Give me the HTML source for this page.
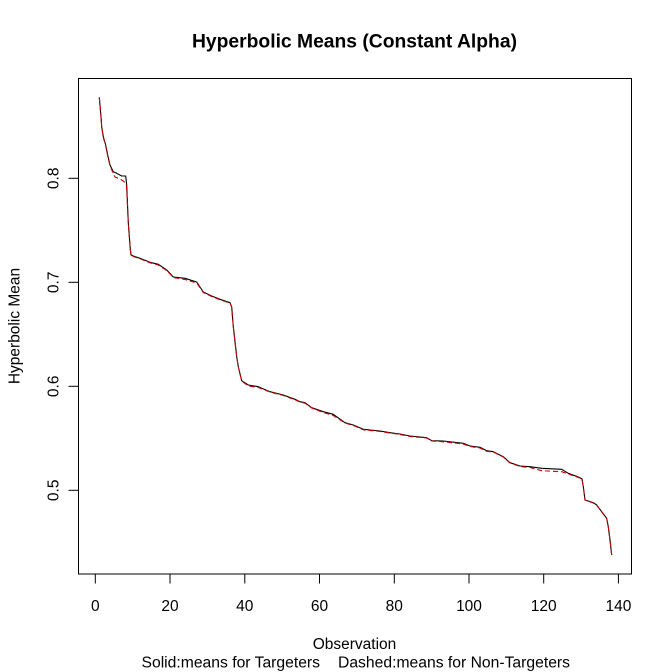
<!DOCTYPE html>
<html>
<head>
<meta charset="utf-8">
<style>
  html, body { margin: 0; padding: 0; background: #ffffff; }
  svg { display: block; }
  text { font-family: "Liberation Sans", Arial, sans-serif; fill: #000; }
</style>
</head>
<body>
<svg width="672" height="672" viewBox="0 0 672 672" xmlns="http://www.w3.org/2000/svg">
  <rect x="0" y="0" width="672" height="672" fill="#ffffff"/>

  <!-- Title -->
  <text x="354.5" y="47.5" font-size="19.2" font-weight="bold" text-anchor="middle" textLength="325" lengthAdjust="spacingAndGlyphs">Hyperbolic Means (Constant Alpha)</text>

  <!-- Plot box -->
  <rect x="78.5" y="78.5" width="553" height="495.5" fill="none" stroke="#000" stroke-width="1"/>

  <!-- X axis ticks -->
  <g stroke="#000" stroke-width="1">
    <line x1="95.3" y1="574" x2="95.3" y2="583.5"/>
    <line x1="170.0" y1="574" x2="170.0" y2="583.5"/>
    <line x1="244.8" y1="574" x2="244.8" y2="583.5"/>
    <line x1="319.5" y1="574" x2="319.5" y2="583.5"/>
    <line x1="394.3" y1="574" x2="394.3" y2="583.5"/>
    <line x1="469.0" y1="574" x2="469.0" y2="583.5"/>
    <line x1="543.7" y1="574" x2="543.7" y2="583.5"/>
    <line x1="618.4" y1="574" x2="618.4" y2="583.5"/>
  </g>
  <g font-size="15.5" text-anchor="middle">
    <text x="95.3" y="611">0</text>
    <text x="170.0" y="611">20</text>
    <text x="244.8" y="611">40</text>
    <text x="319.5" y="611">60</text>
    <text x="394.3" y="611">80</text>
    <text x="469.0" y="611">100</text>
    <text x="543.7" y="611">120</text>
    <text x="618.4" y="611">140</text>
  </g>

  <!-- Y axis ticks -->
  <g stroke="#000" stroke-width="1">
    <line x1="78" y1="178.3" x2="68.5" y2="178.3"/>
    <line x1="78" y1="282.3" x2="68.5" y2="282.3"/>
    <line x1="78" y1="386.3" x2="68.5" y2="386.3"/>
    <line x1="78" y1="490.3" x2="68.5" y2="490.3"/>
  </g>
  <g font-size="15.5" text-anchor="middle">
    <text transform="translate(58.5,178.3) rotate(-90)">0.8</text>
    <text transform="translate(58.5,282.3) rotate(-90)">0.7</text>
    <text transform="translate(58.5,386.3) rotate(-90)">0.6</text>
    <text transform="translate(58.5,490.3) rotate(-90)">0.5</text>
  </g>

  <!-- Axis labels -->
  <text transform="translate(19.5,326) rotate(-90)" font-size="15.5" text-anchor="middle">Hyperbolic Mean</text>
  <text x="354.5" y="649" font-size="15.5" text-anchor="middle">Observation</text>
  <text x="141.5" y="667.5" font-size="15.5" textLength="178.5" lengthAdjust="spacingAndGlyphs">Solid:means for Targeters</text>
  <text x="338" y="667.5" font-size="15.5" textLength="232" lengthAdjust="spacingAndGlyphs">Dashed:means for Non-Targeters</text>

  <!-- Solid black series (Targeters) -->
  <polyline fill="none" stroke="#000" stroke-width="1.1" stroke-linejoin="round" points="
    99.3,97.3 101,116.7 101.7,126.7 103.3,136.7 105.7,145 107.7,155 110,165 113.3,171.7 116.7,173.3 121.7,176 125.7,176
    126.7,185 128.3,223 130.3,249.3 131,255 133.3,256 140,258.3 150,262.3 158.3,264.3 166.7,270 173.3,277 185,278.3
    196.7,282 203.3,292 211.7,296 220,299.3 230,302.7 231.7,307 233.3,326.7 236.7,356.7 238.3,366.7 241.7,380.7
    248.3,385 258.3,386.7 270,391.7 283.3,395 295,399.3 300,401.7 305,402.7 311.7,407.7 323.3,411.7 333.3,414.3
    345,422.7 353.3,425 363.3,429.3 380,431 390,432.7 400,434 410,436 426.7,437.7 431.7,440.7 443.3,441 463.3,443.3
    470,446 480,447.3 486.7,450.7 493.3,451.7 503.3,456.7 510,462.7 520,466 530,466.7 541.7,468.3 561.7,469.3
    568.3,473.3 580,477.7 582,479 583.3,486.7 585,500 593.3,502.7 596.7,505 601.7,511.7 606.7,518.3 608.3,526.7
    610,540 611.7,555"/>

  <!-- Dashed red series (Non-Targeters) -->
  <polyline fill="none" stroke="#cc0000" stroke-width="1.1" stroke-dasharray="5,3" stroke-linejoin="round" points="
    99.3,97.3 101,117 101.7,127 103.3,137.5 105.7,146 107.7,156 110,166 112,170.5 115,177 120,179 124,181.5
    126.5,186 128.3,223 130.3,249.3 131,255 133.3,256.5 140,258.8 150,262.8 158.3,265 166.7,270.5 173.3,277.5 185,279.5
    196.7,283 203.3,292.5 211.7,296.5 220,299.8 230,303.2 231.7,307 233.3,326.7 236.7,356.7 238.3,366.7 241.7,381
    248.3,386 258.3,387.5 270,392 283.3,395.5 295,399.8 300,402 305,403.2 311.7,408 323.3,412.5 333.3,415.5
    345,423 353.3,425.5 363.3,429.8 380,431.5 390,433 400,434.5 410,436.5 426.7,438 431.7,441 443.3,441.8 463.3,444
    470,446.5 480,448 486.7,451.3 493.3,452 503.3,457 510,463 520,466.5 530,467.5 541.7,470.7 561.7,471.7
    568.3,474 580,478 582,479.5 583.3,487 585,500 593.3,503 596.7,505.3 601.7,512 606.7,518.7 608.3,527
    610,540 611.7,555"/>
</svg>
</body>
</html>
